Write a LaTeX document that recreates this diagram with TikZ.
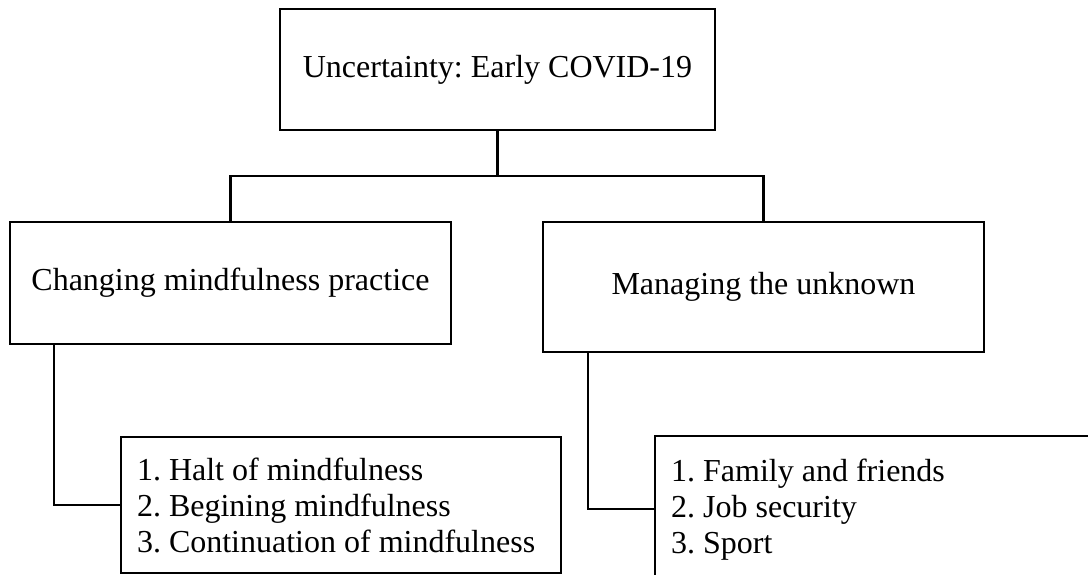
\documentclass[tikz,border=0pt]{standalone}
\usepackage{fontspec}
\setmainfont{Liberation Serif}
\frenchspacing
\begin{document}
\begin{tikzpicture}[x=0.5pt,y=-0.5pt,
  box/.style={draw=black,line width=1.15pt,rectangle,inner sep=0pt,font=\fontsize{16}{18}\selectfont\frenchspacing},
  listbox/.style={box,align=flush left,text width=204pt,inner xsep=8pt,inner ysep=0pt},
  conn/.style={draw=black,line width=1.1pt}]
\clip (0,0) rectangle (1088,574);
\useasboundingbox (0,0) rectangle (1088,574);
\node[box,minimum width=217.5pt,minimum height=60.5pt] (top) at (497.5,69.5) {Uncertainty: Early COVID-19};
\node[box,minimum width=220.5pt,minimum height=61pt] (left) at (230.5,283) {Changing mindfulness practice};
\node[box,minimum width=220.5pt,minimum height=65pt] (right) at (763.5,287) {Managing the unknown};
\node[listbox,minimum height=68pt] (list1) at (341,505) {1. Halt of mindfulness\\2. Begining mindfulness\\3. Continuation of mindfulness};
\node[listbox,text width=260pt,minimum height=73pt,anchor=north west] (list2) at (654,435) {1. Family and friends\\2. Job security\\3. Sport};
\coordinate (bar) at (497,176);
\coordinate (c1) at (54,505);
\coordinate (c2) at (588,508);
\draw[conn] (top.south) -- (top.south |- bar);
\draw[conn] (left.north) -- (left.north |- bar) -- (right.north |- bar) -- (right.north);
\draw[conn] (left.south -| c1) |- (list1.west);
\draw[conn] (right.south -| c2) |- (list2.west);
\end{tikzpicture}
\end{document}
